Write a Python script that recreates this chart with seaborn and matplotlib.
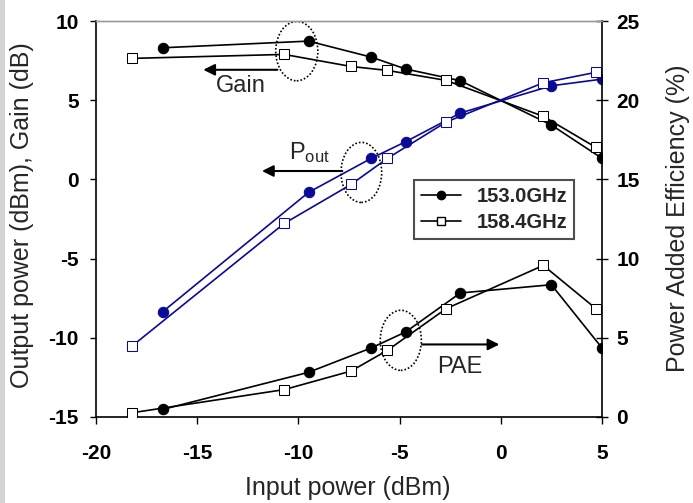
import numpy as np
import pandas as pd
import seaborn as sns
import matplotlib.pyplot as plt
from matplotlib.patches import Ellipse, Rectangle
from matplotlib.lines import Line2D

# input power sweep (dBm) for the two frequencies
pin_153 = [-16.7, -9.5, -6.4, -4.7, -2.0, 2.5, 5.0]
pin_158 = [-18.2, -10.7, -7.4, -5.6, -2.7, 2.1, 4.7]

gain_153 = [8.31, 8.73, 7.72, 6.97, 6.23, 3.43, 1.33]
gain_158 = [7.64, 7.89, 7.13, 6.88, 6.25, 3.98, 2.02]

pout_153 = [-8.35, -0.82, 1.33, 2.38, 4.19, 5.91, 6.33]
pout_158 = [-10.50, -2.78, -0.32, 1.33, 3.62, 6.10, 6.76]

pae_153 = [0.48, 2.82, 4.36, 5.37, 7.83, 8.35, 4.36]
pae_158 = [0.27, 1.73, 2.90, 4.21, 6.84, 9.57, 6.84]

labels = ["153.0GHz", "158.4GHz"]
blue = "#0a0a96"

df153 = pd.DataFrame({"pin": pin_153, "gain": gain_153, "pout": pout_153, "pae": pae_153})
df158 = pd.DataFrame({"pin": pin_158, "gain": gain_158, "pout": pout_158, "pae": pae_158})

sns.set_theme(style="white")
plt.rcParams["font.family"] = ["Liberation Sans", "DejaVu Sans"]
plt.rcParams["mathtext.default"] = "regular"

fig = plt.figure(figsize=(6.93, 5.03), dpi=100)
ax = fig.add_axes([96 / 693, 1 - 417 / 503, 506 / 693, 396 / 503])
ax2 = ax.twinx()

circ = dict(marker="o", markersize=7.5, markerfacecolor=None, lw=1.2, sort=False, legend=False)
sq = dict(marker="s", markersize=7.5, markerfacecolor="white", lw=1.2, sort=False, legend=False)

# gain (left axis)
sns.lineplot(data=df153, x="pin", y="gain", color="black", markeredgecolor="black", ax=ax, **circ)
sns.lineplot(data=df158, x="pin", y="gain", color="black", markeredgecolor="black", ax=ax, **sq)
# output power (left axis)
sns.lineplot(data=df153, x="pin", y="pout", color=blue, markeredgecolor=blue, ax=ax, **circ)
sns.lineplot(data=df158, x="pin", y="pout", color=blue, markeredgecolor=blue, ax=ax, **sq)
# PAE (right axis)
sns.lineplot(data=df153, x="pin", y="pae", color="black", markeredgecolor="black", ax=ax2, **circ)
sns.lineplot(data=df158, x="pin", y="pae", color="black", markeredgecolor="black", ax=ax2, **sq)

ax.set_xlim(-20, 5)
ax.set_ylim(-15, 10)
ax2.set_ylim(0, 25)
ax.set_xticks(np.arange(-20, 6, 5))
ax.set_yticks(np.arange(-15, 11, 5))
ax2.set_yticks(np.arange(0, 26, 5))

tick_font = dict(fontsize=15, fontweight="bold")
ax.set_xticklabels([f"{v}" for v in range(-20, 6, 5)], **tick_font)
ax.set_yticklabels([f"{v}" for v in range(-15, 11, 5)], **tick_font)
ax2.set_yticklabels([f"{v}" for v in range(0, 26, 5)], **tick_font)

ax.tick_params(axis="x", direction="out", length=5, width=1, pad=14.5, colors="black", bottom=True)
ax.tick_params(axis="y", direction="out", length=4.5, width=1, pad=8, colors="black", left=True)
ax2.tick_params(axis="y", direction="inout", length=9, width=1, pad=6, colors="black", right=True)

for a in (ax, ax2):
    for s in a.spines.values():
        s.set_color("black")
        s.set_linewidth(1.2)
    a.spines["top"].set_color("#9a9a9a")
    a.spines["top"].set_linewidth(1.0)
ax.spines["right"].set_visible(False)
ax2.spines["left"].set_visible(False)
ax2.spines["bottom"].set_visible(False)

ax.set_xlabel("Input power (dBm)", fontsize=18)
ax.set_ylabel("Output power (dBm), Gain (dB)", fontsize=18)
ax2.set_ylabel("Power Added Efficiency (%)", fontsize=18, rotation=90)
ax.xaxis.set_label_coords(0.498, -0.179)
ax.xaxis.label.set_va("center")
ax.yaxis.set_label_coords(-0.146, 0.51)
ax.yaxis.label.set_va("center")
ax2.yaxis.set_label_coords(1.150, 0.5025)
ax2.yaxis.label.set_va("center")

# dotted ellipses and arrows for the curve groups
ell = dict(fill=False, edgecolor="black", linestyle=(0, (1, 1.2)), lw=1.2, zorder=5)
ax.add_patch(Ellipse((-10.08, 8.10), 2.08, 3.75, **ell))
ax.add_patch(Ellipse((-6.89, 0.44), 2.01, 3.79, **ell))
ax.add_patch(Ellipse((-4.94, -10.16), 2.03, 3.79, **ell))

arrow = dict(arrowstyle="-|>", color="black", lw=1.5, mutation_scale=17, shrinkA=0, shrinkB=0)
ax.annotate("", xy=(-14.7, 6.92), xytext=(-11.04, 6.92), arrowprops=arrow)
ax.annotate("", xy=(-11.8, 0.53), xytext=(-7.83, 0.53), arrowprops=arrow)
ax.annotate("", xy=(-0.07, -10.42), xytext=(-3.89, -10.42), arrowprops=arrow)

ax.text(-12.85, 5.87, "Gain", fontsize=17, ha="center", va="center")
ax.text(-9.45, 1.7, r"P$_{out}$", fontsize=17, ha="center", va="center")
ax.text(-2.04, -11.85, "PAE", fontsize=17, ha="center", va="center")

handles = [
    Line2D([], [], color="black", lw=1.2, marker="o", markersize=6, markerfacecolor="black"),
    Line2D([], [], color="black", lw=1.2, marker="s", markersize=6, markerfacecolor="white",
           markeredgecolor="black"),
]
leg = ax2.legend(handles, labels, loc="center", bbox_to_anchor=(0.787, 0.523),
                 prop=dict(size=14.5, weight="bold"), frameon=True, fancybox=False,
                 handlelength=2.0, handletextpad=0.75, labelspacing=0.35, borderpad=0.35,
                 borderaxespad=0)
leg.get_frame().set_edgecolor("#222222")
leg.get_frame().set_linewidth(1.5)

# light grey strip on the left edge of the picture
fig.patches.append(Rectangle((0, 0), 5 / 693, 1, transform=fig.transFigure,
                             facecolor="#d4d4d4", edgecolor="none", zorder=-1))

fig.savefig("out.png", dpi=100, facecolor="white")
